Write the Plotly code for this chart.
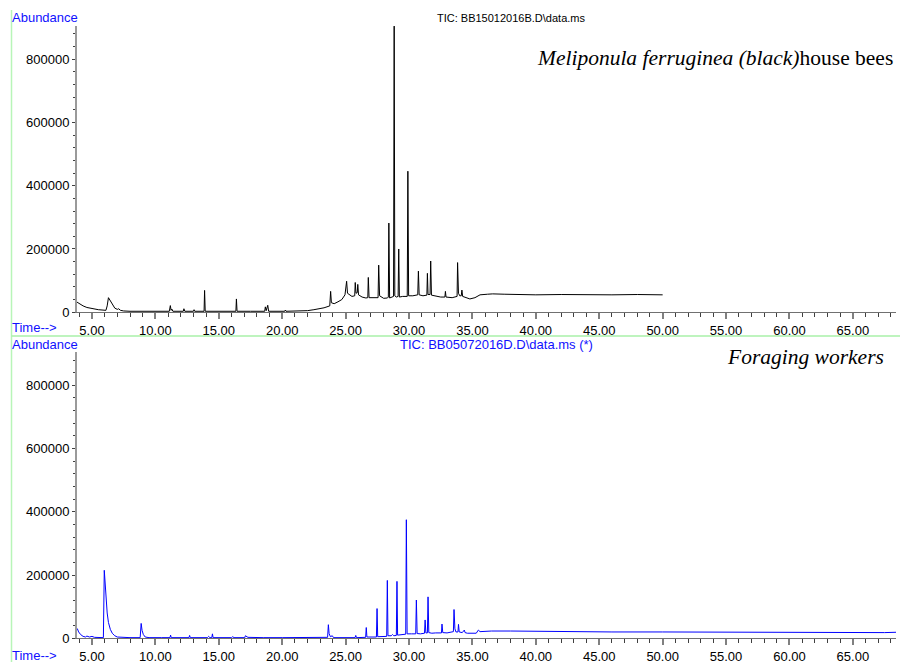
import plotly.graph_objects as go

# --- TIC of the house-bee extract (BB15012016B), time in min, abundance in counts ---
house_time = [
    3.82, 4.0, 4.3, 4.6, 5.0, 5.5, 6.1, 6.2, 6.3, 6.45, 6.6, 6.8, 7.0, 7.1, 7.25, 7.5,
    8.0, 9.0, 10.0, 11.1, 11.18, 11.24, 11.3, 11.38, 12.2, 12.25, 12.32, 13.0, 13.05, 13.1,
    13.84, 13.88, 13.93, 15.0, 16.35, 16.39, 16.44, 17.5, 18.62, 18.67, 18.74, 18.86, 18.93,
    20.2, 20.25, 20.3, 21.5, 22.0, 22.5, 22.9, 23.3, 23.75, 23.82, 23.88, 24.1, 24.4, 24.7,
    24.95, 25.08, 25.15, 25.3, 25.5, 25.72, 25.76, 25.82, 25.92, 25.96, 26.02, 26.3, 26.6,
    26.75, 26.79, 26.85, 27.2, 27.56, 27.61, 27.68, 28.0, 28.3, 28.37, 28.41, 28.47, 28.6,
    28.78, 28.83, 28.88, 29.0, 29.14, 29.19, 29.24, 29.5, 29.86, 29.91, 29.97, 30.3, 30.69,
    30.74, 30.8, 31.1, 31.41, 31.45, 31.5, 31.66, 31.71, 31.77, 32.2, 32.5, 32.83, 32.87,
    32.92, 33.4, 33.79, 33.83, 33.9, 34.0, 34.12, 34.17, 34.23, 34.5, 34.8, 35.2, 35.6,
    36.2, 36.6, 37.5, 38.5, 40.0, 42.0, 44.0, 46.0, 48.0, 50.0,
]
house_abund = [
    32000, 27000, 20000, 15000, 11000, 8000, 6000, 20000, 46000, 35000, 24000, 13000, 9000,
    11000, 6000, 4000, 3000, 3000, 3000, 3000, 21000, 6000, 10000, 3000, 3000, 11000, 3000,
    3000, 8000, 3000, 3000, 69000, 3000, 3000, 3000, 42000, 3000, 3000, 3000, 17000, 5000,
    22000, 3000, 3000, 7000, 3000, 3000, 5000, 8000, 11000, 14000, 20000, 66000, 30000,
    27000, 33000, 40000, 55000, 98000, 60000, 55000, 50000, 52000, 94000, 60000, 62000,
    88000, 55000, 48000, 45000, 46000, 110000, 46000, 45000, 46000, 149000, 52000, 44000,
    45000, 48000, 282000, 45000, 48000, 50000, 905000, 52000, 48000, 50000, 200000, 48000,
    50000, 50000, 446000, 52000, 52000, 55000, 130000, 55000, 52000, 54000, 123000, 56000,
    56000, 162000, 54000, 50000, 48000, 48000, 66000, 48000, 46000, 50000, 157000, 60000,
    52000, 52000, 70000, 50000, 45000, 42000, 46000, 55000, 57000, 58000, 57000, 56000,
    55000, 56000, 55000, 55000, 56000, 55000,
]

# --- TIC of the forager extract (BB05072016D) ---
forager_time = [
    3.84, 3.95, 4.1, 4.3, 4.5, 4.6, 4.8, 5.0, 5.2, 5.5, 5.9, 5.97, 6.05, 6.12, 6.2, 6.3,
    6.45, 6.6, 6.8, 7.0, 7.5, 8.0, 8.8, 8.88, 8.95, 9.05, 9.2, 9.5, 10.5, 11.15, 11.2,
    11.25, 12.65, 12.7, 12.75, 14.1, 14.2, 14.3, 14.45, 14.5, 14.55, 16.0, 16.1, 16.2,
    17.05, 17.1, 17.3, 18.4, 18.5, 20.0, 22.0, 23.58, 23.64, 23.7, 23.8, 23.95, 24.05,
    25.0, 25.75, 25.8, 25.86, 26.58, 26.63, 26.68, 27.43, 27.48, 27.53, 28.24, 28.29,
    28.34, 28.6, 28.7, 28.8, 29.0, 29.05, 29.1, 29.4, 29.74, 29.79, 29.85, 30.2, 30.53,
    30.58, 30.64, 30.9, 31.22, 31.27, 31.33, 31.45, 31.5, 31.56, 31.8, 32.1, 32.3, 32.56,
    32.6, 32.66, 33.0, 33.3, 33.5, 33.55, 33.62, 33.7, 33.86, 33.9, 33.96, 34.2, 34.36,
    34.42, 34.6, 35.3, 35.4, 35.47, 35.6, 36.5, 38.0, 40.0, 42.0, 44.0, 46.0, 50.0, 55.0,
    60.0, 65.0, 67.5, 68.4,
]
forager_abund = [
    31000, 20000, 12000, 6000, 4000, 7000, 4000, 6000, 3000, 2000, 2000, 215000, 160000,
    110000, 80000, 50000, 28000, 16000, 8000, 4000, 2000, 2000, 2000, 47000, 25000, 12000,
    4000, 2000, 2000, 2000, 10000, 2000, 2000, 9000, 2000, 2000, 6000, 2000, 2000, 14000,
    2000, 2000, 5000, 2000, 2000, 8000, 3000, 4000, 2000, 2000, 2000, 3000, 43000, 15000,
    5000, 8000, 2000, 2000, 2000, 9000, 2000, 3000, 34000, 4000, 4000, 94000, 5000, 6000,
    183000, 8000, 8000, 12000, 8000, 9000, 180000, 10000, 11000, 13000, 375000, 14000,
    14000, 14000, 121000, 15000, 14000, 16000, 58000, 17000, 17000, 131000, 18000, 16000,
    17000, 16000, 17000, 45000, 18000, 17000, 19000, 21000, 91000, 30000, 20000, 20000,
    44000, 20000, 18000, 26000, 18000, 16000, 16000, 22000, 26000, 21000, 23000, 23000,
    22000, 22000, 21000, 20000, 20000, 19000, 19000, 19000, 18000, 19000,
]

y_ticks = [0, 200000, 400000, 600000, 800000]
x_range = [3.82, 68.4]
y_range = [0, 906250]

W, H = 900, 670


def px(x):
    return x / W


def py(y):
    return 1 - y / H


fig = go.Figure()
fig.add_trace(go.Scatter(x=house_time, y=house_abund, mode="lines",
                         line=dict(color="#000000", width=1), xaxis="x", yaxis="y"))
fig.add_trace(go.Scatter(x=forager_time, y=forager_abund, mode="lines",
                         line=dict(color="#0000ff", width=1), xaxis="x2", yaxis="y2"))

sans = "Liberation Sans, Arial, sans-serif"
tick_font = dict(family=sans, size=13, color="#000000")

xaxis_style = dict(
    range=x_range, showgrid=False, zeroline=False,
    showline=True, linecolor="#707070", linewidth=1,
    ticks="outside", ticklen=6, tickwidth=1.5, tickcolor="#808080",
    tick0=0, dtick=5, tickformat=".2f", tickfont=tick_font,
    minor=dict(dtick=1, ticks="outside", ticklen=4, tickcolor="#404040", tickwidth=1),
    domain=[px(77), px(896)],
)
yaxis_style = dict(
    range=y_range, showgrid=False, zeroline=False,
    showline=True, linecolor="#9a9a9a", linewidth=2,
    ticks="outside", ticklen=3, tickcolor="#404040",
    tickvals=y_ticks, ticktext=[str(v) for v in y_ticks], tickfont=tick_font,
    minor=dict(dtick=40000, ticks="outside", ticklen=2, tickcolor="#404040"),
)

fig.update_layout(
    width=W, height=H,
    margin=dict(l=0, r=0, t=0, b=0),
    paper_bgcolor="white", plot_bgcolor="white",
    showlegend=False,
    xaxis=dict(**xaxis_style, anchor="y"),
    yaxis=dict(**yaxis_style, anchor="x", domain=[py(316), py(26)]),
    xaxis2=dict(**xaxis_style, anchor="y2"),
    yaxis2=dict(**yaxis_style, anchor="x2", domain=[py(646), py(356)]),
)

blue = "#1010ff"
label_font = dict(family=sans, size=13, color=blue)
serif = "Liberation Serif, Times New Roman, serif"

annotations = [
    dict(x=px(10), y=py(18), text="Abundance", font=label_font, xanchor="left"),
    dict(x=px(10), y=py(349), text="Abundance", font=label_font, xanchor="left"),
    dict(x=px(10), y=py(331), text="Time-->", font=label_font, xanchor="left"),
    dict(x=px(10), y=py(663), text="Time-->", font=label_font, xanchor="left"),
    dict(x=px(511), y=py(18), text="TIC: BB15012016B.D\\data.ms",
         font=dict(family=sans, size=11, color="#000000"), xanchor="center"),
    dict(x=px(497), y=py(349), text="TIC: BB05072016D.D\\data.ms (*)",
         font=label_font, xanchor="center"),
    dict(x=px(535), y=py(59), text="<i>Meliponula ferruginea (black)</i>house bees",
         font=dict(family=serif, size=21.5, color="#000000"), xanchor="left"),
    dict(x=px(725), y=py(361), text="<i>Foraging workers</i>",
         font=dict(family=serif, size=21.5, color="#000000"), xanchor="left"),
]
for a in annotations:
    a.update(xref="paper", yref="paper", yanchor="middle", showarrow=False)
fig.update_layout(annotations=annotations)

# light green frame lines of the report page
fig.update_layout(shapes=[
    dict(type="line", xref="paper", yref="paper", x0=px(11.5), x1=px(11.5), y0=py(10), y1=0,
         line=dict(color="#b8f5b8", width=1.5)),
    dict(type="line", xref="paper", yref="paper", x0=px(11.5), x1=1, y0=py(340), y1=py(340),
         line=dict(color="#a8f0a8", width=1.5)),
])

fig.write_html("out.html")
